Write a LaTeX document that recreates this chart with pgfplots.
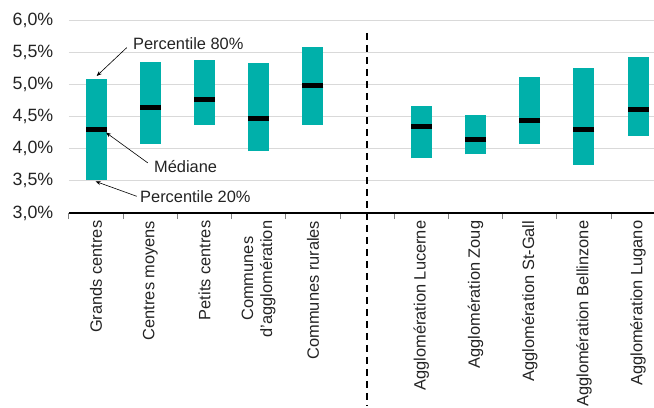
\documentclass[border=0pt]{standalone}
\usepackage{fontspec}
\setmainfont{Liberation Sans}
\usepackage{pgfplots}
\usepackage{pgfplotstable}
\pgfplotsset{compat=1.18}
\usetikzlibrary{arrows.meta}
\definecolor{teal1}{RGB}{0,176,170}
\definecolor{gridc}{RGB}{217,217,217}
\definecolor{txt}{RGB}{35,35,35}

\pgfplotstableread{
x lo hi med
0 3.51 5.09 4.30
1 4.08 5.35 4.64
2 4.37 5.38 4.77
3 3.96 5.33 4.47
4 4.37 5.58 4.98
6 3.85 4.66 4.35
7 3.91 4.52 4.15
8 4.07 5.11 4.44
9 3.75 5.26 4.30
10 4.20 5.42 4.61
}\data

\begin{document}
\begin{tikzpicture}[font=\fontsize{16.4bp}{19bp}\selectfont]
\begin{axis}[
  at={(0,0)}, anchor=south west,
  scale only axis, width=585bp, height=193bp,
  xmin=-0.5, xmax=10.293, ymin=3, ymax=6,
  axis x line*=bottom, axis y line*=left,
  y axis line style={draw=none},
  x axis line style={black, line width=1.2bp},
  ytick={3,3.5,4,4.5,5,5.5,6},
  ymajorgrids, grid style={gridc, line width=1bp},
  major y tick style={draw=none},
  /pgf/number format/assume math mode=true,
  yticklabel={\pgfmathprintnumber[fixed,fixed zerofill,precision=1,use comma]{\tick}\%},
  yticklabel style={txt, font=\fontsize{17.8bp}{20bp}\selectfont, xshift=-8bp},
  xtick={0,1,2,3,4,6,7,8,9,10},
  xticklabels={Grands centres, Centres moyens, Petits centres, {Communes\hspace*{16bp}\\d'agglomération}, Communes rurales, Agglomération Lucerne, Agglomération Zoug, Agglomération St-Gall, Agglomération Bellinzone, Agglomération Lugano},
  major x tick style={draw=none},
  minor xtick={-0.5,0.5,1.5,2.5,3.5,4.5,5.5,6.5,7.5,8.5,9.5},
  minor x tick style={gray, line width=1bp},
  minor tick length=6bp, tick align=outside,
  xticklabel style={rotate=90, anchor=east, align=right, txt},
  clip=false,
]
\addplot[draw=none, mark=none, error bars/.cd, y dir=plus, y explicit, error mark=none,
  error bar style={draw=teal1, solid, line width=21bp}]
  table[x=x, y=lo, y error expr=\thisrow{hi}-\thisrow{lo}] {\data};
\addplot[only marks, mark=-, mark size=10.5bp, mark options={line width=5bp, draw=black}]
  table[x=x, y=med] {\data};
\draw[black, line width=2bp, dash pattern=on 7bp off 5bp] (axis cs:5,5.8) -- (axis cs:5,0);
\node[anchor=west, inner sep=0, txt] at (axis cs:0.68,5.64) {Percentile 80\%};
\draw[-{Stealth[length=5bp,width=4bp]}, line width=0.6bp] (axis cs:0.565,5.57) -- (axis cs:0.011,5.13);
\node[anchor=west, inner sep=0, txt] at (axis cs:1.068,3.72) {Médiane};
\draw[-{Stealth[length=5bp,width=4bp]}, line width=0.6bp] (axis cs:0.952,3.78) -- (axis cs:0.183,4.25);
\node[anchor=west, inner sep=0, txt] at (axis cs:0.81,3.25) {Percentile 20\%};
\draw[-{Stealth[length=5bp,width=4bp]}, line width=0.6bp] (axis cs:0.749,3.26) -- (axis cs:-0.007,3.49);
\end{axis}
\pgfresetboundingbox
\path[use as bounding box] (-69bp,-195bp) rectangle (585bp,213bp);
\end{tikzpicture}
\end{document}
